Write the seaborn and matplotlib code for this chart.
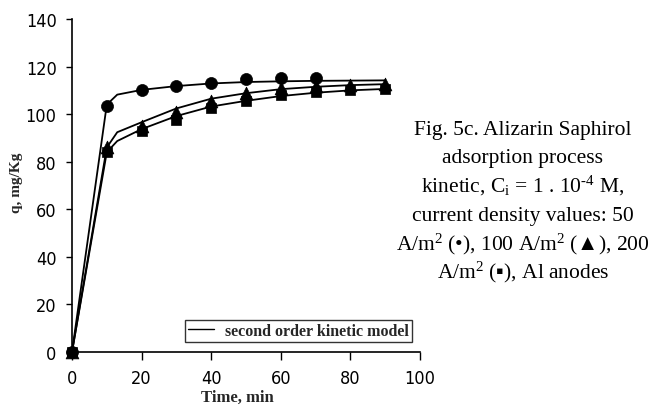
import matplotlib
matplotlib.use("Agg")
import matplotlib.pyplot as plt
import seaborn as sns
import pandas as pd

# Measured adsorption (q, mg/Kg) versus time (min) for three current densities
t_50 = [0, 10, 20, 30, 40, 50, 60, 70]
q_50 = [0, 103.6, 110.0, 112.0, 113.2, 114.6, 115.0, 115.0]

t_100 = [0, 10, 20, 30, 40, 50, 60, 70, 80, 90]
q_100 = [0, 86.0, 95.0, 101.0, 105.5, 109.0, 111.0, 112.0, 112.3, 112.6]

t_200 = [0, 10, 20, 30, 40, 50, 60, 70, 80, 90]
q_200 = [0, 84.0, 93.0, 97.5, 102.5, 105.5, 108.0, 109.5, 110.0, 110.5]

# Second order kinetic model curves
t_model = [0, 10, 13, 20, 30, 40, 50, 60, 70, 80, 90]
model_50 = [0, 104.0, 108.2, 110.2, 111.8, 112.9, 113.5, 113.8, 114.0, 114.1, 114.2]
model_100 = [0, 86.0, 92.4, 96.6, 102.4, 106.5, 108.8, 110.5, 111.5, 112.2, 112.6]
model_200 = [0, 84.0, 88.7, 93.7, 99.2, 103.2, 105.6, 107.6, 109.0, 110.0, 110.6]

x_ticks = [0, 20, 40, 60, 80, 100]
y_ticks = [0, 20, 40, 60, 80, 100, 120, 140]

caption_lines = [
    "Fig. 5c. Alizarin Saphirol",
    "adsorption process",
    "kinetic, C$_{\\mathrm{i}}$ = 1 . 10$^{\\mathrm{\u20104}}$ M,",
    "current density values: 50",
    "A/m$^{\\mathrm{2}}$ (•), 100 A/m$^{\\mathrm{2}}$ (▲), 200",
    "A/m$^{\\mathrm{2}}$ (▪), Al anodes",
]

sns.set_style("ticks")
plt.rcParams["font.family"] = ["Liberation Sans Narrow", "DejaVu Sans"]
plt.rcParams["font.stretch"] = "condensed"
plt.rcParams["mathtext.fontset"] = "custom"
plt.rcParams["mathtext.rm"] = "Liberation Serif"
plt.rcParams["mathtext.default"] = "regular"

fig = plt.figure(figsize=(6.52, 4.10), dpi=100)
ax = fig.add_axes([72 / 652, 1 - 353 / 410, 348 / 652, 333 / 410])

models = pd.DataFrame({
    "t": t_model * 3,
    "q": model_50 + model_100 + model_200,
    "series": ["50"] * len(t_model) + ["100"] * len(t_model) + ["200"] * len(t_model),
})
sns.lineplot(data=models, x="t", y="q", units="series", estimator=None,
             color="black", linewidth=1.3, ax=ax, clip_on=False)

obs = [(t_50, q_50, "o", 75), (t_100, q_100, "^", 85), (t_200, q_200, "s", 55)]
for tt, qq, mk, sz in obs:
    sns.scatterplot(x=tt, y=qq, marker=mk, s=sz, color="black", edgecolor="black",
                    linewidth=0.5, ax=ax, clip_on=False, zorder=3, legend=False)

ax.set_xlim(0, 100)
ax.set_ylim(0, 140)
ax.set_xticks(x_ticks)
ax.set_yticks(y_ticks)
ax.set_xticklabels([str(v) for v in x_ticks])
ax.set_yticklabels([str(v) for v in y_ticks])
ax.tick_params(axis="both", labelsize=13, color="black", labelcolor="black",
               width=1.0, direction="out")
ax.tick_params(axis="y", length=4, pad=7)
ax.tick_params(axis="x", length=6, pad=6)
for side in ("top", "right"):
    ax.spines[side].set_visible(False)
for side in ("left", "bottom"):
    ax.spines[side].set_color("black")
    ax.spines[side].set_linewidth(1.2)

serif = ["Liberation Serif", "DejaVu Serif"]
ax.set_xlabel("Time, min", fontdict=dict(family=serif, weight="bold", size=12,
                                         stretch="normal"), va="center")
ax.set_ylabel("q, mg/Kg", fontdict=dict(family=serif, weight="bold", size=11,
                                        stretch="normal"), va="center")
ax.xaxis.set_label_coords((237 - 72) / 348, -(398 - 353) / 333)
ax.yaxis.set_label_coords(-(72 - 17) / 348, (353 - 183) / 333)

handle = plt.Line2D([], [], color="black", linewidth=1.0)
leg = ax.legend([handle], ["second order kinetic model"], loc="lower right",
                bbox_to_anchor=(0.977, 0.03), frameon=True, fancybox=False,
                prop=dict(family=serif, weight="bold", size=11.5, stretch="normal"),
                handlelength=1.6, handletextpad=0.7, borderpad=0.2, borderaxespad=0)
leg.get_frame().set_edgecolor("black")
leg.get_frame().set_linewidth(1.0)

baselines = [135, 163, 192, 221, 250, 278]
for line, yb in zip(caption_lines, baselines):
    fig.text(523 / 652, 1 - yb / 410, line, ha="center", va="baseline",
             fontsize=15.5, family=serif, stretch="normal", color="black")

fig.savefig("out.png", dpi=100, facecolor="white")
